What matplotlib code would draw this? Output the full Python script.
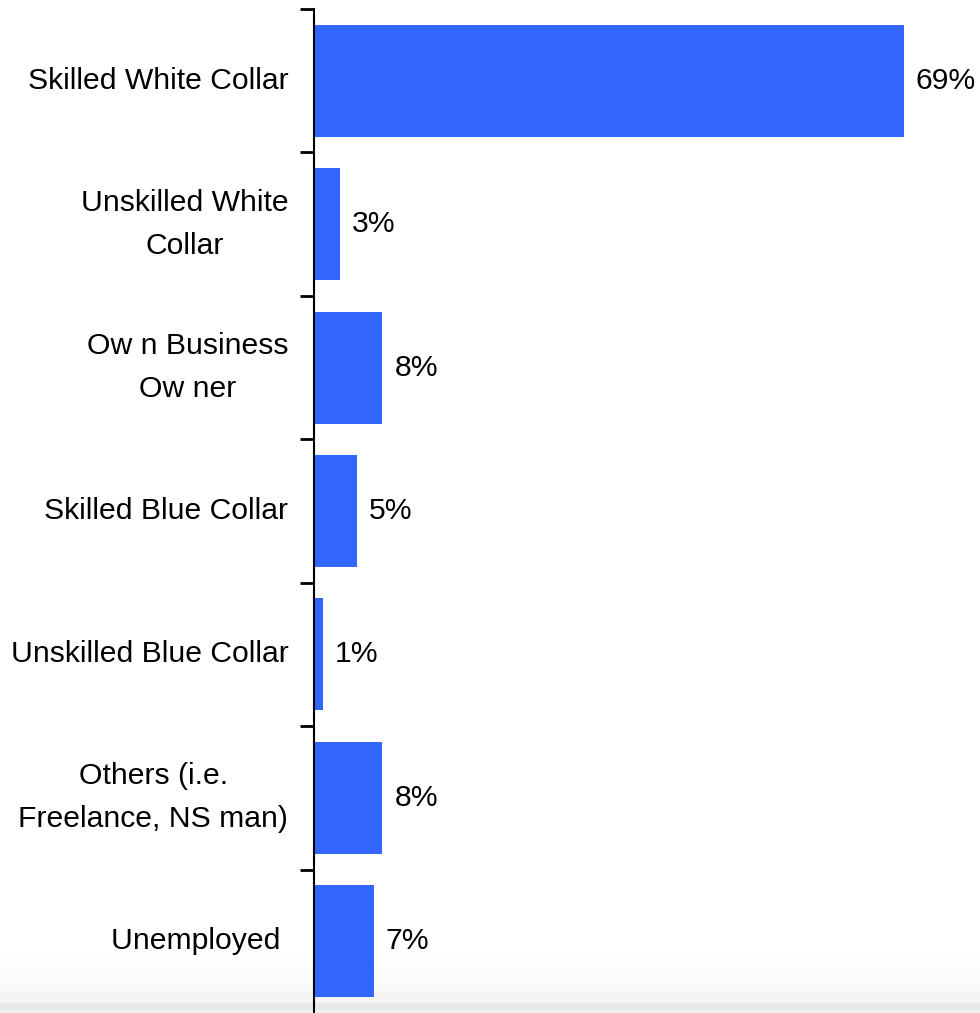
import matplotlib
matplotlib.use("Agg")
import matplotlib.pyplot as plt
import numpy as np

categories = ["Skilled White Collar", "Unskilled White\nCollar", "Ow n Business\nOw ner",
              "Skilled Blue Collar", "Unskilled Blue Collar", "Others (i.e.\nFreelance, NS man)",
              "Unemployed "]
values = [69, 3, 8, 5, 1, 8, 7]
value_labels = ["69%", "3%", "8%", "5%", "1%", "8%", "7%"]

plt.rcParams['font.family'] = ['Liberation Sans', 'DejaVu Sans']

W, H = 980, 1013
fig = plt.figure(figsize=(W / 100, H / 100), dpi=100)

# bottom gradient band
bg = fig.add_axes([0, 0, 1, 1], zorder=0)
bg.set_axis_off()
ys = np.arange(H)
g = np.ones(H)
m = (ys >= 955) & (ys < 1003)
g[m] = 1 - 0.045 * ((ys[m] - 955) / 48.0) ** 1.5
g[(ys >= 1003) & (ys < 1010)] = 0.91
g[ys >= 1010] = 0.95
img = np.repeat(g[:, None], 3, axis=1)[:, None, :]
bg.imshow(img, aspect='auto', extent=[0, 1, 1, 0], interpolation='nearest')
bg.set_xlim(0, 1); bg.set_ylim(1, 0)

ax = fig.add_axes([314 / W, 0.0, 1 - 314 / W, (H - 9) / H * 1.0], zorder=1)
ax.patch.set_alpha(0)
n = len(categories)
ypos = np.arange(n)
ax.barh(ypos, values, height=0.78, color="#3366FF", zorder=2)
ax.set_ylim(n - 0.5 + 0.0, -0.5)
ax.set_xlim(0, (W - 314) / 8.55)

for y, v, lab in zip(ypos, values, value_labels):
    ax.text(v + 12 / 8.55, y, lab, va='center', ha='left', fontsize=21.7, color='black')

ax.set_yticks(ypos)
ax.set_yticklabels(categories, fontsize=21.7, ha='right', multialignment='center', va='center')
for t in ax.get_yticklabels():
    t.set_linespacing(1.68)
ax.tick_params(axis='y', which='major', length=0, pad=18.5)
ax.set_yticks(np.arange(n) - 0.5, minor=True)
ax.tick_params(axis='y', which='minor', length=10, width=2, direction='out', color='black')
ax.set_xticks([])
for s in ['top', 'right', 'bottom']:
    ax.spines[s].set_visible(False)
ax.spines['left'].set_linewidth(1.5)
ax.spines['left'].set_color('black')

fig.savefig("out.png", dpi=100)
